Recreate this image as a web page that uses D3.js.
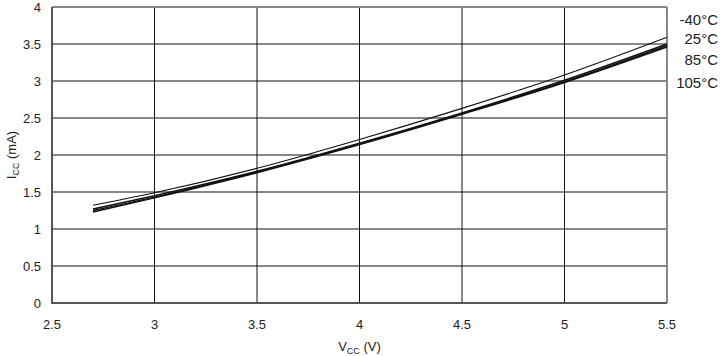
<!DOCTYPE html>
<html>
<head>
<meta charset="utf-8">
<script src="https://cdn.jsdelivr.net/npm/d3@7"></script>
<style>
  body { margin: 0; background: #fff; }
  text { font-family: "Liberation Sans", Arial, sans-serif; fill: #222; }
</style>
</head>
<body>
<div id="chart"></div>
<script>
var vcc = [2.7, 3, 3.5, 4, 4.5, 5, 5.5];
var seriesNames = ["-40°C", "25°C", "85°C", "105°C"];
var icc40 = [1.32, 1.49, 1.82, 2.21, 2.63, 3.08, 3.59];
var icc25 = [1.27, 1.45, 1.78, 2.16, 2.57, 3.01, 3.50];
var icc85 = [1.25, 1.43, 1.77, 2.15, 2.56, 2.99, 3.48];
var icc105 = [1.23, 1.42, 1.76, 2.14, 2.55, 2.98, 3.46];
var xTicks = [2.5, 3, 3.5, 4, 4.5, 5, 5.5];
var yTicks = [0, 0.5, 1, 1.5, 2, 2.5, 3, 3.5, 4];

var width = 722;
var height = 356;
var margin = { left: 52, top: 7, right: 55, bottom: 53 };

var svg = d3.select("#chart")
  .append("svg")
  .attr("width", width)
  .attr("height", height);

var x = d3.scaleLinear().domain([2.5, 5.5]).range([margin.left, width - margin.right]);
var y = d3.scaleLinear().domain([0, 4]).range([height - margin.bottom, margin.top]);

// grid
svg.append("g")
  .selectAll("line")
  .data(xTicks.slice(1, -1))
  .enter()
  .append("line")
  .attr("x1", d => x(d)).attr("x2", d => x(d))
  .attr("y1", y(0)).attr("y2", y(4))
  .attr("stroke", "#111").attr("stroke-width", 1);

svg.append("g")
  .selectAll("line")
  .data(yTicks.slice(1, -1))
  .enter()
  .append("line")
  .attr("x1", x(2.5)).attr("x2", x(5.5))
  .attr("y1", d => y(d)).attr("y2", d => y(d))
  .attr("stroke", "#111").attr("stroke-width", 1);

// frame
svg.append("line")
  .attr("x1", x(2.5)).attr("x2", x(5.5)).attr("y1", y(4)).attr("y2", y(4))
  .attr("stroke", "#888").attr("stroke-width", 2);
svg.append("line")
  .attr("x1", x(5.5)).attr("x2", x(5.5)).attr("y1", y(4)).attr("y2", y(0))
  .attr("stroke", "#888").attr("stroke-width", 2);
svg.append("line")
  .attr("x1", x(2.5)).attr("x2", x(2.5)).attr("y1", y(4)).attr("y2", y(0) + 1)
  .attr("stroke", "#555").attr("stroke-width", 2);
svg.append("line")
  .attr("x1", x(2.5) - 1).attr("x2", x(5.5)).attr("y1", y(0)).attr("y2", y(0))
  .attr("stroke", "#555").attr("stroke-width", 2);

// tick labels
svg.append("g")
  .selectAll("text")
  .data(yTicks)
  .enter()
  .append("text")
  .attr("x", 41)
  .attr("y", d => y(d) + 5)
  .attr("text-anchor", "end")
  .attr("font-size", "13px")
  .text(d => d);

svg.append("g")
  .selectAll("text")
  .data(xTicks)
  .enter()
  .append("text")
  .attr("x", d => x(d))
  .attr("y", y(0) + 26)
  .attr("text-anchor", "middle")
  .attr("font-size", "13px")
  .text(d => d);

// axis titles
var xt = svg.append("text")
  .attr("x", x(4))
  .attr("y", 351)
  .attr("text-anchor", "middle")
  .attr("font-size", "13px");
xt.append("tspan").text("V");
xt.append("tspan").attr("font-size", "9px").attr("dy", 3).text("CC");
xt.append("tspan").attr("dy", -3).text(" (V)");

var yt = svg.append("text")
  .attr("transform", "translate(16," + y(2) + ") rotate(-90)")
  .attr("text-anchor", "middle")
  .attr("font-size", "13px");
yt.append("tspan").text("I");
yt.append("tspan").attr("font-size", "9px").attr("dy", 3).text("CC");
yt.append("tspan").attr("dy", -3).text(" (mA)");

// curves
var series = [icc40, icc25, icc85, icc105];
var widths = [1.1, 1.4, 1.4, 1.4];
var line = d3.line()
  .x((d, i) => x(vcc[i]))
  .y(d => y(d))
  .curve(d3.curveMonotoneX);

svg.append("g")
  .selectAll("path")
  .data(series)
  .enter()
  .append("path")
  .attr("d", d => line(d))
  .attr("fill", "none")
  .attr("stroke", "#111")
  .attr("stroke-width", (d, i) => widths[i]);

// series labels
var labelY = [20, 39, 60, 83];
svg.append("g")
  .selectAll("text")
  .data(seriesNames)
  .enter()
  .append("text")
  .attr("x", 718)
  .attr("y", (d, i) => labelY[i] + 5)
  .attr("text-anchor", "end")
  .attr("font-size", "15px")
  .text(d => d);
</script>
</body>
</html>
